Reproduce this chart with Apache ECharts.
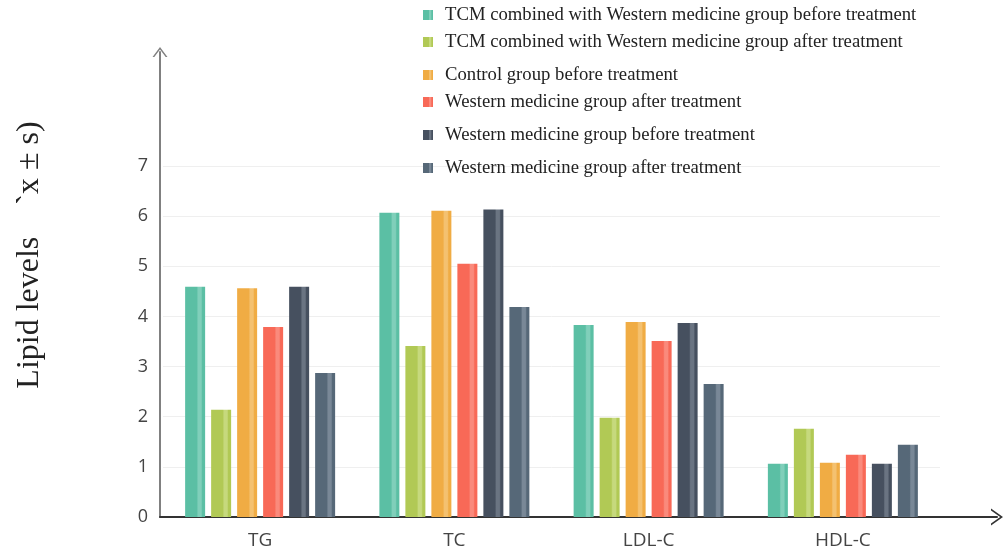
<!DOCTYPE html>
<html>
<head>
<meta charset="utf-8">
<script src="https://cdn.jsdelivr.net/npm/echarts@6/dist/echarts.min.js"></script>
<style>html,body{margin:0;padding:0;background:#fff}#c{width:1007px;height:555px}</style>
</head>
<body>
<div id="c"></div>
<script>
const categories = ['TG', 'TC', 'LDL-C', 'HDL-C'];
const seriesNames = [
  'TCM combined with Western medicine group before treatment',
  'TCM combined with Western medicine group after treatment',
  'Control group before treatment',
  'Western medicine group after treatment',
  'Western medicine group before treatment',
  'Western medicine group after treatment\u200b'
];
const tcmBefore = [4.59, 6.07, 3.83, 1.06];
const tcmAfter = [2.14, 3.41, 1.98, 1.76];
const controlBefore = [4.56, 6.11, 3.89, 1.08];
const westernAfterA = [3.79, 5.05, 3.51, 1.24];
const westernBefore = [4.59, 6.13, 3.87, 1.06];
const westernAfterB = [2.87, 4.19, 2.65, 1.44];
const yTicks = [0, 1, 2, 3, 4, 5, 6, 7];
const yTitle = 'Lipid levels    `x \u00b1 s)';

const values = [tcmBefore, tcmAfter, controlBefore, westernAfterA, westernBefore, westernAfterB];
const colors = ['#5bbfa4', '#b1c955', '#f0ac44', '#f86957', '#46505f', '#566878'];
const lights = ['#80cfba', '#c6d97d', '#f4c170', '#fa8a7c', '#6a7482', '#798897'];
const legendTops = [0.5, 27.5, 60.5, 87.5, 120.5, 153.5];

function grad(i) {
  return {
    type: 'linear', x: 0, y: 0, x2: 1, y2: 0,
    colorStops: [
      {offset: 0, color: colors[i]}, {offset: 0.58, color: colors[i]},
      {offset: 0.65, color: lights[i]}, {offset: 0.8, color: lights[i]},
      {offset: 0.87, color: colors[i]}, {offset: 1, color: colors[i]}
    ]
  };
}

const arrowUp = 'path://M0,10 L7.5,0 L15,10 L13.2,10 L7.5,2.4 L1.8,10 Z';
const arrowX = 'path://M0,12 L8.5,0 L17,12 L15,12 L8.5,2.8 L2,12 Z';

const chart = echarts.init(document.getElementById('c'));
chart.setOption({
  animation: false,
  backgroundColor: '#fff',
  grid: [
    {left: 163, right: 67, top: 166, bottom: 38},
    {left: 160, right: 10, top: 52, bottom: 38}
  ],
  xAxis: [
    {
      type: 'category', gridIndex: 0, data: categories,
      axisLine: {show: false}, axisTick: {show: false},
      axisLabel: {margin: 14, fontFamily: 'Open Sans', fontSize: 19, color: '#444'}
    },
    {
      type: 'value', gridIndex: 1, min: 0, max: 1,
      axisLabel: {show: false}, axisTick: {show: false}, splitLine: {show: false},
      axisLine: {show: true, symbol: ['none', arrowX], symbolSize: [17, 12],
        lineStyle: {color: '#333', width: 2}}
    }
  ],
  yAxis: [
    {
      type: 'value', gridIndex: 0, min: 0, max: 7, interval: 1,
      axisLine: {show: false}, axisTick: {show: false},
      axisLabel: {margin: 15, fontFamily: 'Open Sans', fontSize: 18, color: '#444',
        formatter: v => yTicks.indexOf(v) >= 0 ? String(v) : ''},
      splitLine: {show: true, lineStyle: {color: '#efefef', width: 1}}
    },
    {
      type: 'value', gridIndex: 1, min: 0, max: 1,
      axisLabel: {show: false}, axisTick: {show: false}, splitLine: {show: false},
      axisLine: {show: true, symbol: ['none', arrowUp], symbolSize: [15, 10],
        lineStyle: {color: '#808080', width: 2}}
    }
  ],
  legend: seriesNames.map((n, i) => ({
    data: [n], left: 418, top: legendTops[i], orient: 'vertical',
    icon: 'rect', itemWidth: 10, itemHeight: 10, selectedMode: false,
    textStyle: {fontFamily: 'Liberation Serif', fontSize: 18.7, color: '#222', padding: [0, 0, 0, 7]}
  })),
  graphic: [{
    type: 'text', x: 30, y: 255, rotation: Math.PI / 2,
    style: {text: yTitle, font: '32px "Liberation Serif"', fill: '#222',
      textAlign: 'center', textVerticalAlign: 'middle'}
  }],
  series: seriesNames.map((n, i) => ({
    name: n, type: 'bar', xAxisIndex: 0, yAxisIndex: 0,
    barWidth: 20, barGap: '30%', data: values[i],
    itemStyle: {color: grad(i)}
  }))
});
</script>
</body>
</html>
